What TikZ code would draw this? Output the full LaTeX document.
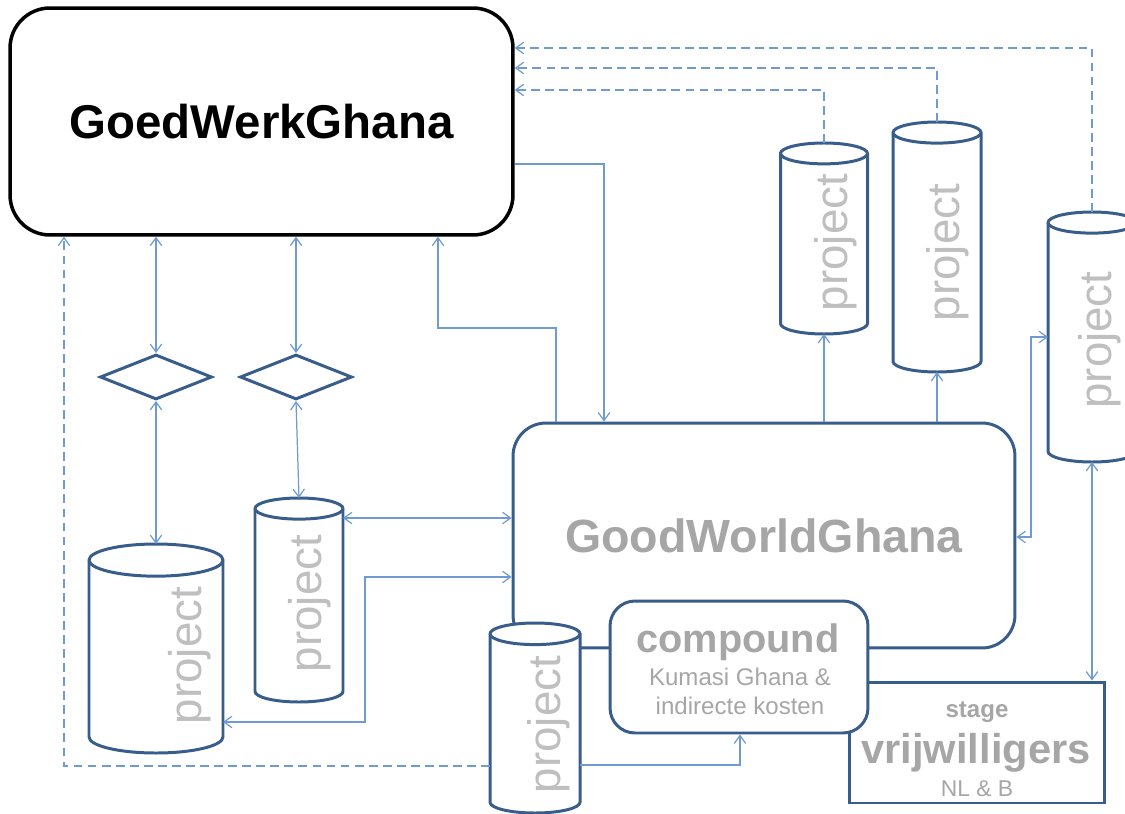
\documentclass[tikz,border=0pt]{standalone}
\usepackage{fontspec}
\setmainfont{Liberation Sans}
\usetikzlibrary{shapes.geometric,arrows.meta}

\definecolor{randblauw}{HTML}{385D8A}
\definecolor{lijnblauw}{HTML}{6F9AD3}
\definecolor{tekstgrijs}{HTML}{A6A6A6}
\definecolor{projgrijs}{HTML}{BFBFBF}

% naam, x midden, y boven, y onder, halve breedte
\newcommand{\vat}[5]{%
  \pgfmathsetmacro\vatry{0.24*#5}%
  \node[vatvlak,minimum width={2*#5*0.02cm},minimum height={(#4-#3)*0.02cm}] (#1) at (#2,{(#3+#4)/2}) {};
  \draw[vatrand] (#2-#5,#3+\vatry) -- (#2-#5,#4-\vatry)
    arc[start angle=180,end angle=0,x radius=#5,y radius=\vatry]
    -- (#2+#5,#3+\vatry)
    arc[start angle=0,end angle=-180,x radius=#5,y radius=\vatry] -- cycle;
  \draw[vatrand] (#2-#5,#3+\vatry)
    arc[start angle=180,end angle=0,x radius=#5,y radius=\vatry];
}

\begin{document}
\begin{tikzpicture}[x=0.02cm,y=-0.02cm,
    >={Straight Barb[length=4.5pt,width=6.5pt]},
    hoofdblok/.style={draw=black,line width=2pt,rounded corners=0.8cm,fill=white,inner sep=0pt},
    blok/.style={draw=randblauw,line width=1.7pt,fill=white,inner sep=0pt},
    ruit/.style={diamond,draw=randblauw,line width=1.7pt,inner sep=0pt,minimum width=2.24cm,minimum height=0.9cm},
    vatvlak/.style={inner sep=0pt,outer sep=0pt},
    vatrand/.style={draw=randblauw,line width=1.7pt,fill=white},
    vattekst/.style={rotate=90,text=projgrijs,inner sep=0pt,font=\fontsize{26}{30}\selectfont},
    grijs/.style={text=tekstgrijs,inner sep=0pt},
    pijl/.style={draw=lijnblauw,line width=0.7pt},
    stippel/.style={dash pattern=on 5pt off 3pt}]
    \clip (0,0) rectangle (1125,814);

    \node[hoofdblok,minimum width=10.06cm,minimum height=4.54cm,font=\fontsize{27}{32}\selectfont\bfseries] (gwg) at (261.5,121.5) {GoedWerkGhana};
    \node[blok,rounded corners=0.66cm,minimum width=10.04cm,minimum height=4.5cm,text=tekstgrijs,font=\fontsize{26.5}{32}\selectfont\bfseries] (gwd) at (764,535.5) {GoodWorldGhana};
    \node[blok,minimum width=5.12cm,minimum height=2.42cm] (vrij) at (977,742.5) {};
    \node[blok,rounded corners=0.5cm,minimum width=5.16cm,minimum height=2.64cm] (comp) at (739,667) {};

    \vat{pgroot}{156}{544}{753}{67}
    \vat{pmidden}{299}{498}{702}{44}
    \vat{ponder}{535}{623}{813}{45}
    \vat{pa}{824}{143}{334}{43.5}
    \vat{pb}{937}{122}{372}{44}
    \vat{pc}{1092}{212}{462}{44}

    \node[vattekst] at (190,655.5) {project};
    \node[vattekst] at (310,603.5) {project};
    \node[vattekst] at (549,724.5) {project};
    \node[vattekst] at (836,242.5) {project};
    \node[vattekst] at (948,252.5) {project};
    \node[vattekst] at (1100,340) {project};

    \node[ruit] (r1) at (156,377) {};
    \node[ruit] (r2) at (296,377) {};

    \node[grijs,font=\fontsize{22.6}{26}\selectfont\bfseries] at (738,642) {compound};
    \node[grijs,font=\fontsize{13.7}{16}\selectfont] at (740,677) {Kumasi Ghana \&};
    \node[grijs,font=\fontsize{13.7}{16}\selectfont] at (740,705.5) {indirecte kosten};
    \node[grijs,font=\fontsize{13.7}{16}\selectfont\bfseries] at (977,712) {stage};
    \node[grijs,font=\fontsize{23.7}{28}\selectfont\bfseries] at (976,753) {vrijwilligers};
    \node[grijs,font=\fontsize{13}{16}\selectfont] at (977,789) {NL \& B};

    \draw[pijl,->] (gwg.east |- 0,164) -| (gwd.north -| 604,0);
    \draw[pijl,->] (gwd.north -| 556,0) |- (438,328) -- (gwg.south -| 438,0);
    \draw[pijl,<->] (gwg.south -| r1.north) -- (r1.north);
    \draw[pijl,<->] (r1.south) -- (pgroot.north);
    \draw[pijl,<->] (gwg.south -| r2.north) -- (r2.north);
    \draw[pijl,<->] (r2.south) -- (pmidden.north);
    \draw[pijl,<->] (pmidden.east |- 0,518) -- (gwd.west |- 0,518);
    \draw[pijl,<->] (pgroot.east |- 0,722) -| (365,577) -- (gwd.west |- 0,577);
    \draw[pijl,stippel,->] (ponder.west |- 0,766) -| (gwg.south -| 64,0);
    \draw[pijl,->] (ponder.east |- 0,765) -| (comp.south -| 740,0);
    \draw[pijl,->] (gwd.north -| pa.south) -- (pa.south);
    \draw[pijl,->] (gwd.north -| pb.south) -- (pb.south);
    \draw[pijl,stippel,->] (pa.north) |- (gwg.east |- 0,90);
    \draw[pijl,stippel,->] (pb.north) |- (gwg.east |- 0,68);
    \draw[pijl,stippel,->] (pc.north) |- (gwg.east |- 0,48);
    \draw[pijl,<->] (gwd.east |- 0,537) -| (1031,337) -- (pc.west |- 0,337);
    \draw[pijl,<->] (pc.south) -- (vrij.north -| pc.south);
\end{tikzpicture}
\end{document}
